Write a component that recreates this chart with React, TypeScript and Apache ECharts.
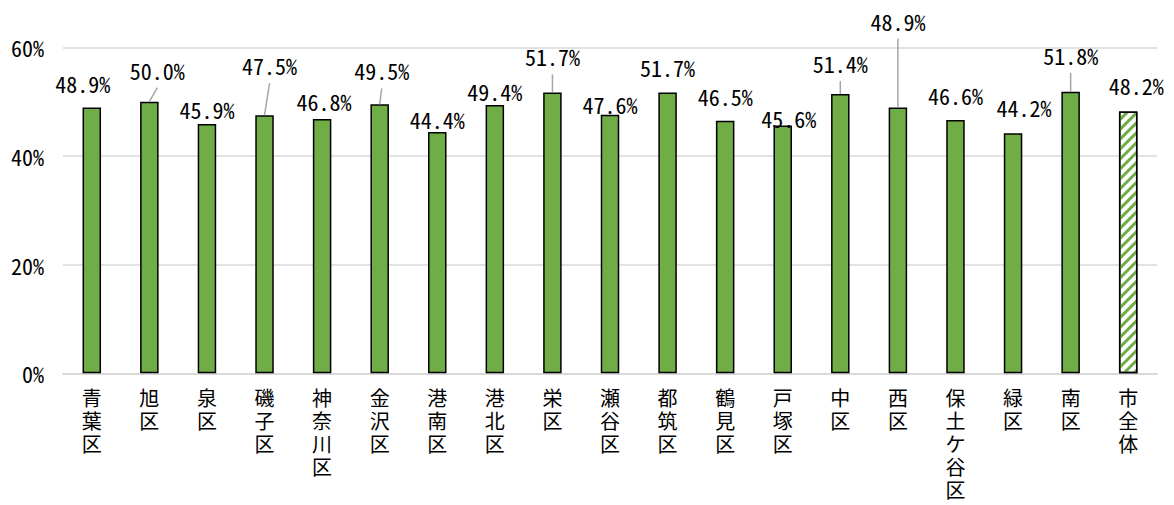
import React, { useEffect, useRef } from "react";
import * as echarts from "echarts";

const categories = ["青葉区", "旭区", "泉区", "磯子区", "神奈川区", "金沢区", "港南区", "港北区", "栄区", "瀬谷区", "都筑区", "鶴見区", "戸塚区", "中区", "西区", "保土ケ谷区", "緑区", "南区", "市全体"];
const values = [48.9, 50.0, 45.9, 47.5, 46.8, 49.5, 44.4, 49.4, 51.7, 47.6, 51.7, 46.5, 45.6, 51.4, 48.9, 46.6, 44.2, 51.8, 48.2];
const yTicks = [0, 20, 40, 60];

// label placement (style): horizontal shift and rise of label centre above bar top
const labelDx = [-9, 8, 0, 5, 2, 2, 0, 0, 0, 0, 0, 0, 6, 0, 0, 0, 11, 0, 8];
const labelRise = [25, 32, 15, 50, 18, 34, 13, 14, 36, 11, 25, 25, 8, 31, 87, 25, 26, 37, 26];
const hasLeader = [0, 1, 0, 1, 0, 1, 0, 0, 1, 0, 0, 0, 0, 1, 1, 0, 0, 1, 0];

const GREEN = "#70AD47";
const MONO_FONT = '"Noto Sans Mono CJK JP", "Noto Sans CJK JP", monospace';

export default function App() {
  const ref = useRef<HTMLDivElement>(null);
  useEffect(() => {
    if (!ref.current) return;
    const chart = echarts.init(ref.current, undefined, { renderer: "svg" });
    const lastIdx = categories.length - 1;
    chart.setOption({
      animation: false,
      backgroundColor: "#ffffff",
      grid: { left: 63, right: 17, top: 47.3, bottom: 131.7, containLabel: false },
      xAxis: {
        type: "category",
        data: categories,
        axisTick: { show: false },
        axisLine: { show: true, lineStyle: { color: "#D9D9D9", width: 2 } },
        axisLabel: {
          interval: 0,
          margin: 13,
          fontSize: 20,
          lineHeight: 23,
          color: "#000",
          fontFamily: '"Noto Sans CJK JP", sans-serif',
          verticalAlign: "top",
          formatter: (v: string) => v.split("").join("\n"),
        },
      },
      yAxis: {
        type: "value",
        min: yTicks[0],
        max: yTicks[yTicks.length - 1],
        interval: yTicks[1] - yTicks[0],
        axisLine: { show: false },
        axisTick: { show: false },
        splitLine: { lineStyle: { color: "#D9D9D9", width: 1.5 } },
        axisLabel: {
          formatter: "{value}%",
          fontSize: 22,
          margin: 19,
          color: "#000",
          fontFamily: MONO_FONT,
        },
      },
      series: [
        {
          type: "bar",
          barWidth: 18.5,
          z: 2,
          itemStyle: { color: GREEN, borderColor: "#000", borderWidth: 1.5 },
          data: values.map((v, i) =>
            i === lastIdx
              ? {
                  value: v,
                  itemStyle: {
                    color: "#ffffff",
                    decal: {
                      symbol: "rect",
                      symbolSize: 1,
                      color: GREEN,
                      dashArrayX: [1, 0],
                      dashArrayY: [3, 4],
                      rotation: -Math.PI / 4,
                    },
                  },
                }
              : v
          ),
          label: {
            show: true,
            position: "top",
            fontSize: 22,
            color: "#000",
            fontFamily: MONO_FONT,
            formatter: (p: any) => Number(p.value).toFixed(1) + "%",
          },
          labelLayout: (p: any) => {
            const i = p.dataIndex;
            return {
              x: p.rect.x + p.rect.width / 2 + labelDx[i],
              y: p.rect.y - labelRise[i],
              align: "center",
              verticalAlign: "middle",
            };
          },
        },
        {
          type: "custom",
          z: 3,
          silent: true,
          encode: { x: 0, y: 1 },
          data: values.map((v, i) => [i, v]),
          renderItem: (params: any, api: any) => {
            const i = api.value(0);
            const v = api.value(1);
            if (!hasLeader[i]) return { type: "group", children: [] };
            const p = api.coord([i, v]);
            return {
              type: "line",
              shape: { x1: p[0], y1: p[1], x2: p[0] + labelDx[i], y2: p[1] - labelRise[i] + 18 },
              style: { stroke: "#A6A6A6", lineWidth: 1.5 },
            };
          },
        },
      ],
    });
    return () => chart.dispose();
  }, []);
  return (
    <div
      ref={ref}
      style={{ position: "fixed", left: 0, top: 0, width: 1174, height: 505, background: "#fff" }}
    />
  );
}
